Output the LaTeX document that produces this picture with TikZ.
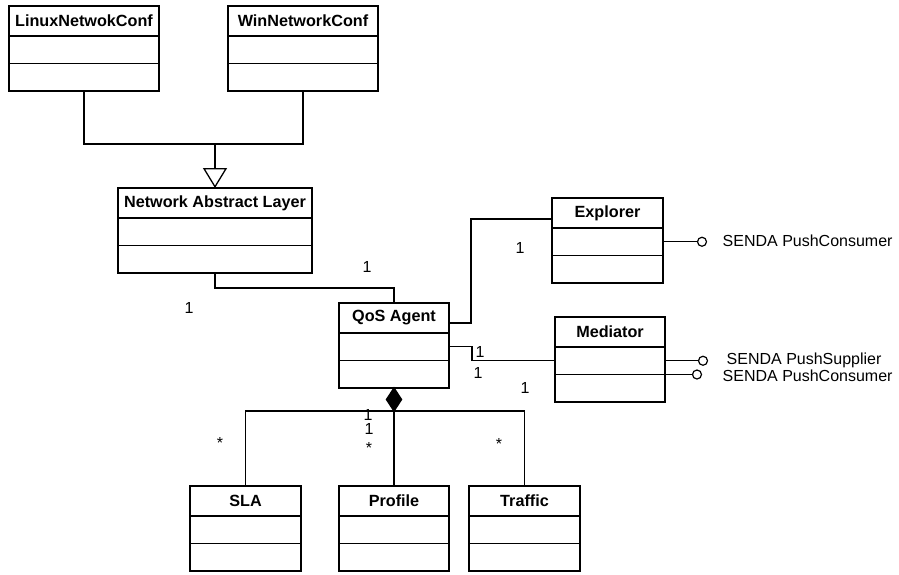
\documentclass[tikz,border=0pt]{standalone}
\usepackage{fontspec}
\setmainfont{Liberation Sans}
\usetikzlibrary{arrows.meta,shapes.geometric}

\begin{document}
\begin{tikzpicture}[x=1pt,y=-1pt,line width=1.4pt,
    head/.style={draw,anchor=north west,minimum height=30pt,inner sep=0pt,outer sep=0pt,font=\bfseries\fontsize{16.2}{18}\selectfont},
    part/.style={draw,anchor=north,minimum height=27.5pt,inner sep=0pt,outer sep=0pt},
    lbl/.style={font=\fontsize{16}{18}\selectfont,inner sep=0pt},
    lolly/.style={draw,circle,fill=white,minimum size=9pt,inner sep=0pt,line width=1.2pt},
    comp/.style={diamond,draw,fill=black,minimum width=15pt,minimum height=23pt,inner sep=0pt,outer sep=0pt},
    inherit/.style={line width=2pt,-{Triangle[open,length=20pt,width=24pt,line width=1.3pt]}}]

    \useasboundingbox (0,0) rectangle (899,574);

    % class heads
    \node[head,minimum width=150pt] (linux) at (9,6) {LinuxNetwokConf};
    \node[head,minimum width=150pt] (win) at (228,6) {WinNetworkConf};
    \node[head,minimum width=194pt] (nal) at (118,188) {Network Abstract Layer};
    \node[head,minimum width=110pt] (qos) at (339,303) {QoS Agent};
    \node[head,minimum width=111pt] (explorer) at (552,198) {Explorer};
    \node[head,minimum width=110pt] (mediator) at (555,317) {Mediator};
    \node[head,minimum width=111pt] (sla) at (190,486) {SLA};
    \node[head,minimum width=110pt] (profile) at (339,486) {Profile};
    \node[head,minimum width=111pt] (traffic) at (469,486) {Traffic};

    % attribute and operation parts
    \foreach \c/\w in {linux/150pt,win/150pt,nal/194pt,qos/110pt,explorer/111pt,
                       mediator/110pt,sla/111pt,profile/110pt,traffic/111pt} {
        \node[part,minimum width=\w] (\c-a) at (\c.south) {};
        \node[part,minimum width=\w] (\c-b) at (\c-a.south) {};
    }

    % generalisation
    \coordinate (join) at (nal.north |- 0,144);
    \draw (linux-b.south) |- (join);
    \draw (win-b.south) |- (join);
    \draw[inherit] (join) -- (nal.north);

    % associations
    \draw (nal-b.south) -- ++(0,15) -| (qos.north);
    \draw ([yshift=-5pt]qos.east) -- ++(22,0) |- ([yshift=-6pt]explorer.west);
    \draw (qos-a.east) -- ++(23,0) |- (mediator-a.west);

    % interfaces
    \node[lolly] (expc) at (explorer-a.east -| 702,0) {};
    \draw (explorer-a.east) -- (expc);
    \node[lbl,anchor=west] (expct) at (722,241) {SENDA PushConsumer};
    \node[lolly] (meds) at (mediator-a.east -| 703,0) {};
    \draw (mediator-a.east) -- (meds);
    \node[lbl,anchor=west] (medst) at (726,360) {SENDA PushSupplier};
    \node[lolly] (medc) at (mediator-b.north east -| 697,0) {};
    \draw (mediator-b.north east) -- (medc);
    \node[lbl,anchor=west] (medct) at (722,376) {SENDA PushConsumer};

    % composition
    \node[comp,anchor=north] (whole) at (qos-b.south) {};
    \draw (sla.north) |- (whole.south) -| (traffic.north);
    \draw (whole.south) -- (profile.north);

    % multiplicities
    \node[lbl] (m-nal) at (189,308) {1};
    \node[lbl] (m-qos1) at (367,267) {1};
    \node[lbl] (m-exp) at (520,248) {1};
    \node[lbl] (m-qos2) at (480,352) {1};
    \node[lbl] (m-qos3) at (478,373) {1};
    \node[lbl] (m-med) at (525,388) {1};
    \node[lbl] (m-agg1) at (368,415) {1};
    \node[lbl] (m-agg2) at (369,429) {1};
    \node[lbl] (m-sla) at (220,443) {*};
    \node[lbl] (m-prof) at (369,448) {*};
    \node[lbl] (m-traf) at (499,444) {*};
\end{tikzpicture}
\end{document}
